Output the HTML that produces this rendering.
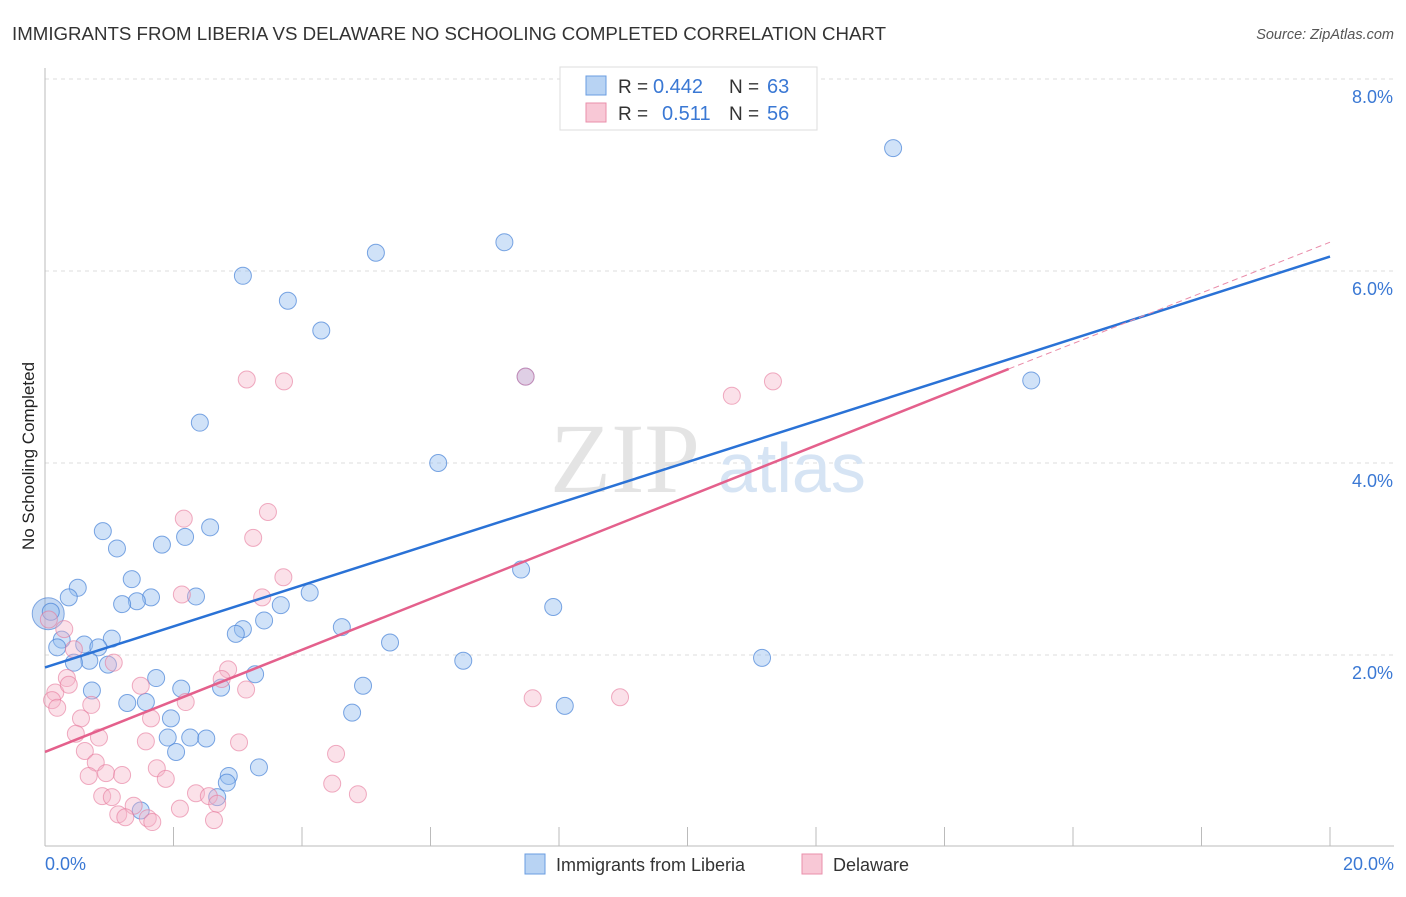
<!DOCTYPE html>
<html><head><meta charset="utf-8"><style>
body{margin:0;background:#fff;font-family:"Liberation Sans",sans-serif}
</style></head><body>
<svg width="1406" height="892" viewBox="0 0 1406 892" xmlns="http://www.w3.org/2000/svg">
<text x="12" y="40" font-size="18" fill="#333" textLength="874" lengthAdjust="spacingAndGlyphs">IMMIGRANTS FROM LIBERIA VS DELAWARE NO SCHOOLING COMPLETED CORRELATION CHART</text>
<text x="1394" y="39" font-size="14.5" fill="#555" font-style="italic" text-anchor="end">Source: ZipAtlas.com</text>
<g id="grid"></g>
<text x="700" y="492" font-size="100" fill="#e4e4e4" text-anchor="end" font-family="Liberation Serif,serif">ZIP</text>
<text x="718" y="492" font-size="70" fill="#d6e4f4">atlas</text>
<g id="axes"></g>
<g id="pts"></g>
<g id="lines"></g>
<text transform="translate(34,456) rotate(-90)" font-size="17" fill="#222" text-anchor="middle">No Schooling Completed</text>
<g>
<rect x="560" y="67" width="257" height="63" fill="#fff" stroke="#ddd"/>
<rect x="586" y="76" width="20" height="19" fill="#b8d3f3" stroke="#6a9de0"/>
<rect x="586" y="103" width="20" height="19" fill="#f8c8d6" stroke="#ea8fab"/>
<text x="618" y="93" font-size="19" fill="#333">R =</text>
<text x="653" y="93" font-size="20" fill="#3a78d4">0.442</text>
<text x="729" y="93" font-size="19" fill="#333">N =</text>
<text x="767" y="93" font-size="20" fill="#3a78d4">63</text>
<text x="618" y="120" font-size="19" fill="#333">R =</text>
<text x="662" y="120" font-size="20" fill="#3a78d4">0.511</text>
<text x="729" y="120" font-size="19" fill="#333">N =</text>
<text x="767" y="120" font-size="20" fill="#3a78d4">56</text>
</g>
<g>
<rect x="525" y="854" width="20" height="20" fill="#b8d3f3" stroke="#6a9de0"/>
<text x="556" y="871" font-size="18" fill="#333">Immigrants from Liberia</text>
<rect x="802" y="854" width="20" height="20" fill="#f8c8d6" stroke="#ea8fab"/>
<text x="833" y="871" font-size="18" fill="#333">Delaware</text>
</g>
</svg>
<script>
const yTicks=[2,4,6,8];
const xTickLabels=["0.0%","20.0%"];
const blueX=[13.2,7.15,5.15,3.08,3.78,4.3,7.48,15.35,2.41,6.12,0.9,2.57,1.12,1.82,2.18,7.41,1.35,0.51,0.37,1.65,1.43,1.2,2.35,4.12,3.67,7.91,0.09,3.41,3.08,2.97,4.62,5.37,1.04,0.26,0.61,0.83,0.19,0.69,0.98,0.45,6.51,11.16,3.27,1.73,2.74,2.12,0.73,4.95,1.57,1.28,8.09,4.78,1.96,1.91,2.26,2.51,2.04,3.33,2.86,2.83,2.68,1.49];
const blueY=[7.28,6.3,6.19,5.95,5.69,5.38,4.9,4.86,4.42,4.0,3.29,3.33,3.11,3.15,3.23,2.89,2.79,2.7,2.6,2.6,2.56,2.53,2.61,2.65,2.52,2.5,2.45,2.36,2.27,2.22,2.29,2.13,2.17,2.16,2.11,2.08,2.08,1.94,1.9,1.92,1.94,1.97,1.80,1.76,1.66,1.65,1.63,1.68,1.51,1.50,1.47,1.40,1.34,1.14,1.14,1.13,0.99,0.83,0.74,0.67,0.52,0.38];
const pinkX=[7.48,3.14,3.72,10.69,11.33,3.47,2.16,3.24,3.71,2.13,3.38,0.3,0.45,1.07,2.85,0.34,2.75,1.49,0.16,0.37,3.13,0.11,2.19,0.19,0.72,7.59,8.95,0.56,1.65,0.48,0.84,1.57,3.02,0.62,4.53,0.79,1.74,0.68,0.95,1.2,1.88,4.47,0.89,1.04,2.35,2.55,2.68,4.87,1.38,2.1,1.14,1.25,1.6,1.67,2.63,0.06];
const pinkY=[4.9,4.87,4.85,4.7,4.85,3.49,3.42,3.22,2.81,2.63,2.6,2.27,2.06,1.92,1.85,1.76,1.75,1.68,1.61,1.69,1.64,1.53,1.51,1.45,1.48,1.55,1.56,1.34,1.34,1.18,1.14,1.10,1.09,1.0,0.97,0.88,0.82,0.74,0.77,0.75,0.71,0.66,0.53,0.52,0.56,0.53,0.45,0.55,0.43,0.4,0.34,0.31,0.30,0.26,0.28,2.37];
const blueLine=[1.87,6.15];
const pinkLine=[0.99,4.98,6.3];
const X=v=>45+v*64.25, Y=v=>847-v*96;
const NS="http://www.w3.org/2000/svg";
function mk(t,a,p){const e=document.createElementNS(NS,t);for(const k in a)e.setAttribute(k,a[k]);p.appendChild(e);return e;}
const grid=document.getElementById('grid'),axes=document.getElementById('axes'),pts=document.getElementById('pts'),lines=document.getElementById('lines');
yTicks.forEach(v=>{
 const l=mk('line',{x1:45,x2:1394,y1:Y(v),y2:Y(v),stroke:'#ddd','stroke-dasharray':'4,4'},grid);
 
 
 const t=mk('text',{x:1393,y:Y(v)+24,'font-size':18,fill:'#3a78d4','text-anchor':'end'},axes);
 t.textContent=v.toFixed(1)+'%';
 
 
});
mk('line',{x1:45,x2:45,y1:68,y2:846,stroke:'#bbb'},axes);
mk('line',{x1:45,x2:1394,y1:846,y2:846,stroke:'#bbb'},axes);
for(let i=1;i<=10;i++){mk('line',{x1:X(i*2),x2:X(i*2),y1:827,y2:846,stroke:'#bbb'},axes);}
xTickLabels.forEach((s,i)=>{
 const t=mk('text',{x:i?1394:45,y:870,'font-size':18,fill:'#3a78d4','text-anchor':i?'end':'start'},axes);
 t.textContent=s;
 
 
});
const b0=mk('circle',{cx:X(0.05),cy:Y(2.43),r:16,fill:'rgba(110,160,225,0.4)',stroke:'rgba(60,120,210,0.6)'},pts);


blueX.forEach((x,i)=>{
 const c=mk('circle',{cx:X(x),cy:Y(blueY[i]),r:8.5,fill:'rgba(150,190,240,0.45)',stroke:'rgba(70,130,215,0.7)'},pts);
 
 
});
pinkX.forEach((x,i)=>{
 const c=mk('circle',{cx:X(x),cy:Y(pinkY[i]),r:8.5,fill:'rgba(245,180,200,0.4)',stroke:'rgba(230,120,155,0.6)'},pts);
 
 
});
const bl=mk('line',{x1:X(0),y1:Y(blueLine[0]),x2:X(20),y2:Y(blueLine[1]),stroke:'#2a72d6','stroke-width':2.5},lines);


const pl=mk('line',{x1:X(0),y1:Y(pinkLine[0]),x2:X(15),y2:Y(pinkLine[1]),stroke:'#e4608c','stroke-width':2.5},lines);


const pd=mk('line',{x1:X(15),y1:Y(pinkLine[1]),x2:X(20),y2:Y(pinkLine[2]),stroke:'#e98aa8','stroke-width':1,'stroke-dasharray':'6,4'},lines);


</script>
</body></html>
